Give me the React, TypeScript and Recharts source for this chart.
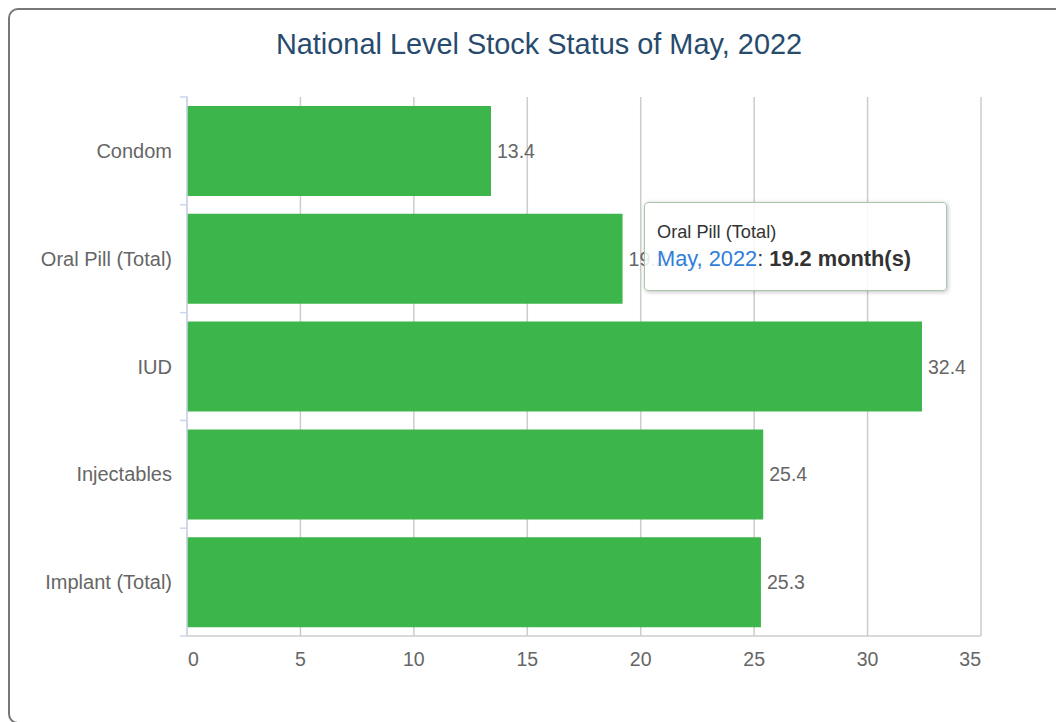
import { BarChart, Bar, XAxis, YAxis, CartesianGrid, Tooltip, LabelList } from "recharts";

const CATEGORIES = ["Condom", "Oral Pill (Total)", "IUD", "Injectables", "Implant (Total)"];
const MONTHS = [13.4, 19.2, 32.4, 25.4, 25.3];
const X_TICKS = [0, 5, 10, 15, 20, 25, 30, 35];
const PERIOD = "May, 2022";

const FONT = '"Liberation Sans", Arial, Helvetica, sans-serif';
const LABEL_GRAY = "#666666";
const GRID = "#cccccc";
const AXIS_BLUE = "#ccd6eb";
const BAR_GREEN = "#3cb54a";

const data = CATEGORIES.map((name, i) => ({ name, value: MONTHS[i] }));

function CategoryTick(props: any) {
  const { x, y, payload, index, visibleTicksCount } = props;
  const half = payload.offset || 54;
  const lx = x + 8;
  return (
    <g>
      <text x={x} y={y} dy="0.35em" textAnchor="end" fill={LABEL_GRAY} fontSize={20} fontFamily={FONT}>
        {payload.value}
      </text>
      <line x1={lx} x2={lx + 8} y1={y - half} y2={y - half} stroke={AXIS_BLUE} strokeWidth={1.5} />
      {index === visibleTicksCount - 1 && (
        <line x1={lx} x2={lx + 8} y1={y + half} y2={y + half} stroke={AXIS_BLUE} strokeWidth={1.5} />
      )}
    </g>
  );
}

function ValueTick(props: any) {
  const { x, y, payload, index, visibleTicksCount } = props;
  let anchor = "middle";
  let dx = 0;
  if (index === 0) {
    anchor = "start";
    dx = 1;
  } else if (index === visibleTicksCount - 1) {
    anchor = "end";
  }
  return (
    <text x={x + dx} y={y} dy={22} textAnchor={anchor} fill={LABEL_GRAY} fontSize={19.5} fontFamily={FONT}>
      {payload.value}
    </text>
  );
}

function StockTooltip({ payload }: any) {
  const entry = payload && payload.length ? payload[0].payload : data[1];
  return (
    <div
      style={{
        width: 277,
        height: 61,
        padding: "13px 12px",
        background: "rgba(255,255,255,0.86)",
        border: "1px solid #a9c8ab",
        borderRadius: 4,
        boxShadow: "1px 1px 4px rgba(0,0,0,0.25)",
        fontFamily: FONT,
        color: "#333333",
      }}
    >
      <div style={{ fontSize: 18.2, lineHeight: "24px", marginTop: 4 }}>{entry.name}</div>
      <div style={{ fontSize: 21.8, lineHeight: "30px" }}>
        <span style={{ color: "#2f7ed8" }}>{PERIOD}</span>: <b>{entry.value} month(s)</b>
      </div>
    </div>
  );
}

export default function App() {
  return (
    <div style={{ position: "relative", width: 1056, height: 722, overflow: "hidden" }}>
      <style>{"body{margin:0}"}</style>
      <div
        style={{
          position: "absolute",
          left: 8,
          top: 8,
          width: 1058,
          height: 712,
          border: "2px solid #777777",
          borderRadius: 10,
          background: "#ffffff",
          fontFamily: FONT,
        }}
      >
        <div
          style={{
            position: "absolute",
            left: 0,
            top: 17,
            width: 1058,
            textAlign: "center",
            fontSize: 28.9,
            color: "#274b6d",
            lineHeight: "34px",
          }}
        >
          National Level Stock Status of {PERIOD}
        </div>
        <div style={{ position: "absolute", left: 0, top: 0 }}>
          <BarChart
            width={1040}
            height={700}
            data={data}
            layout="vertical"
            margin={{ top: 87, right: 69, bottom: 44, left: 0 }}
            barSize={90}
          >
            <CartesianGrid horizontal={false} stroke={GRID} strokeWidth={1.5} />
            <XAxis
              type="number"
              domain={[0, 35]}
              ticks={X_TICKS}
              interval={0}
              height={30}
              axisLine={{ stroke: GRID, strokeWidth: 1.5 }}
              tickLine={false}
              tick={<ValueTick />}
            />
            <XAxis
              xAxisId="top"
              type="number"
              orientation="top"
              domain={[0, 35]}
              height={0}
              tick={false}
              tickLine={false}
              axisLine={{ stroke: GRID, strokeWidth: 1.5 }}
            />
            <YAxis
              type="category"
              dataKey="name"
              width={177}
              axisLine={{ stroke: AXIS_BLUE, strokeWidth: 1.5 }}
              tickLine={false}
              tickSize={7}
              tickMargin={8}
              interval={0}
              tick={<CategoryTick />}
            />
            <Tooltip
              defaultIndex={1}
              active
              cursor={false}
              isAnimationActive={false}
              position={{ x: 634, y: 192 }}
              content={<StockTooltip />}
              wrapperStyle={{ outline: "none" }}
            />
            <Bar dataKey="value" fill={BAR_GREEN} isAnimationActive={false}>
              <LabelList
                dataKey="value"
                position="right"
                offset={6}
                fill={LABEL_GRAY}
                fontSize={19.5}
                fontFamily={FONT}
              />
            </Bar>
          </BarChart>
        </div>
      </div>
    </div>
  );
}
